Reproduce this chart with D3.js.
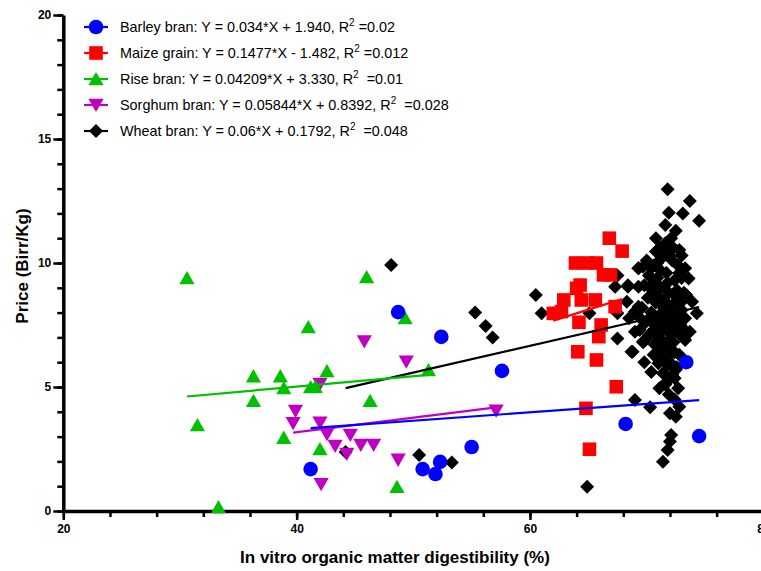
<!DOCTYPE html>
<html><head><meta charset="utf-8">
<script src="https://cdn.jsdelivr.net/npm/d3@7"></script>
<style>
body{margin:0;background:#fff;}
svg{display:block;font-family:"Liberation Sans",Arial,sans-serif;}
</style></head>
<body>
<svg id="chart" width="761" height="571"></svg>
<script>
// ---------------- data ----------------
const seriesNames = ["Barley bran","Maize grain","Rise bran","Sorghum bran","Wheat bran"];
const legendEquations = [
  "Y = 0.034*X + 1.940, R",
  "Y = 0.1477*X - 1.482, R",
  "Y = 0.04209*X + 3.330, R",
  "Y = 0.05844*X + 0.8392, R",
  "Y = 0.06*X + 0.1792, R"
];
const legendR2 = [" =0.02"," =0.012","  =0.01","  =0.028","  =0.048"];
// fitted line coefficients as drawn in the picture
const fitSlope = [0.034, 0.1477, 0.04209, 0.05844, 0.108];
const fitIntercept = [1.940, -1.482, 3.330, 0.8392, 0.1792];

const xTicks = [20,40,60,80];
const yTicks = [0,5,10,15,20];

const barleyX = [48.7,52.4,57.6,41.2,50.8,51.9,52.3,55.0,68.2,73.4,74.5];
const barleyY = [8.02,7.02,5.65,1.69,1.69,1.49,1.98,2.58,3.51,6.0,3.02];

const maizeX = [66.8,67.9,63.9,64.9,65.7,66.3,66.9,64.3,64.0,62.9,64.4,65.6,62.0,62.7,67.3,64.2,66.1,65.9,64.1,65.7,67.4,64.8,65.1];
const maizeY = [11.0,10.48,10.0,10.0,10.0,9.52,9.52,9.11,8.98,8.51,8.51,8.51,7.97,8.04,8.24,7.61,7.5,7.03,6.42,6.09,5.01,4.14,2.49];

const riseX = [30.6,46.0,41.0,49.3,36.3,38.6,42.6,38.9,41.2,41.6,36.3,46.3,51.3,31.5,38.9,42.0,48.6,33.3];
const riseY = [9.4,9.44,7.42,7.78,5.44,5.44,5.65,4.96,5.0,5.01,4.45,4.45,5.69,3.47,2.96,2.5,0.98,0.16];

const sorghumX = [45.8,49.4,42.0,39.9,39.7,42.0,42.6,44.6,43.3,44.3,45.5,46.6,48.7,42.1,57.1];
const sorghumY = [6.83,6.02,5.12,4.03,3.54,3.56,3.09,3.06,2.62,2.3,2.66,2.66,2.06,1.08,4.04];

const wheatX = [44.2,48.1,50.5,53.3,55.3,56.2,56.8,60.5,61.0,64.9,65.1,67.3,67.5,67.5,67.5,68.8,68.4,69.3,69.3,68.3,68.5,69.0,68.7,69.0,70.3,
  71.8,73.7,71.9,73.1,74.5,71.6,72.1,71.1,72.8,71.5,70.8,69.7,73.3,73.4,74.3,73.4,
  71.0,71.4,72.4,71.1,72.7,72.0,72.5,72.1,72.0,71.8,71.4,69.9,71.0,71.8,73.3,
  70.0,70.6,71.3,72.2,72.7,70.2,70.9,71.7,72.4,73.0,69.8,70.5,71.2,71.9,72.6,72.9,70.1,70.8,71.5,72.2,
  69.6,70.4,71.1,71.8,72.5,73.1,69.9,70.7,71.4,72.1,72.8,70.2,71.0,71.7,72.4,70.6,71.3,72.0,72.6,70.4,71.7,
  69.4,69.7,69.8,72.3,70.8,73.6,73.9,73.3,72.9,73.7,69.3,68.4,69.3,69.4,69.0,69.7,
  70.4,71.2,72.0,72.8,70.6,71.8,72.4,70.9,71.5,72.2,73.0,70.3,71.0,71.9,72.6,70.6,71.4,72.1,72.9,71.5,
  72.3,71.2,72.0,72.8,71.8,72.5,72.2,71.6,72.4,71.9,70.9,71.6,72.5,70.7,73.2,73.0,72.8];
const wheatY = [2.38,9.92,2.26,1.96,8.0,7.46,7.0,8.71,7.97,0.98,7.97,9.04,9.5,7.97,6.96,6.42,9.04,9.04,9.79,8.44,7.77,8.04,6.42,4.48,4.18,
  12.97,12.5,12.03,12.0,11.7,11.53,11.0,10.59,10.52,10.5,10.46,9.85,9.79,8.71,7.97,7.23,
  5.96,5.55,5.35,4.95,4.95,3.94,3.8,3.06,2.8,2.46,1.99,6.9,6.9,6.8,6.9,
  10.1,9.9,10.2,10.1,9.9,9.5,9.4,9.6,9.3,9.4,9.1,8.9,9.0,8.8,8.9,8.4,8.6,8.4,8.5,8.3,
  8.2,8.0,7.9,7.8,7.9,7.7,7.6,7.5,7.3,7.4,7.2,7.1,7.0,6.6,6.4,6.3,6.2,6.0,5.8,5.6,5.2,
  7.3,6.8,6.0,10.6,11.0,9.38,8.44,7.77,7.1,7.23,9.79,9.1,8.24,7.8,7.23,6.83,
  9.8,9.7,10.3,9.6,9.2,9.2,8.7,8.7,8.2,8.1,8.1,7.8,7.7,7.6,7.6,7.3,7.5,7.1,7.5,6.8,
  6.8,6.5,6.3,6.3,5.9,5.7,5.5,5.1,4.5,4.7,10.0,10.8,11.3,6.7,8.8,10.3,4.2];

const colors = ["#0000ff","#ff0000","#00c000","#c000c0","#000000"];
const shapes = ["circle","square","triangle","invtriangle","diamond"];

// ---------------- layout ----------------
const svg = d3.select("#chart");
const x = d3.scaleLinear().domain([20,80]).range([63.3,763.3]);
const y = d3.scaleLinear().domain([0,20]).range([511,15]);

function shapePath(s){
  switch(s){
    case "circle": return "M7.3,0A7.3,7.3 0 1,1 -7.3,0A7.3,7.3 0 1,1 7.3,0Z";
    case "square": return "M-6.8,-6.8H6.8V6.8H-6.8Z";
    case "triangle": return "M0,-7L7.6,6.3H-7.6Z";
    case "invtriangle": return "M0,7L7.6,-6.3H-7.6Z";
    case "diamond": return "M0,-7L7,0L0,7L-7,0Z";
  }
}

// axes
const axisG = svg.append("g");
axisG.append("g").attr("transform",`translate(${x(20)},0)`)
  .call(d3.axisLeft(y).tickValues(d3.range(0,21,1)).tickSize(6).tickFormat(""))
  .call(g=>g.selectAll("line").attr("stroke-width",2.5))
  .call(g=>g.select(".domain").remove());
const yAx = axisG.append("g").attr("transform",`translate(${x(20)},0)`)
  .call(d3.axisLeft(y).tickValues(yTicks).tickSize(10).tickSizeOuter(0).tickPadding(2));
yAx.select(".domain").attr("stroke-width",3.5);
yAx.selectAll("line").attr("stroke-width",2.5);
yAx.selectAll("text").attr("font-size",12).attr("font-weight","bold").attr("font-family","'Liberation Sans',Arial,sans-serif");

axisG.append("g").attr("transform",`translate(0,${y(0)})`)
  .call(d3.axisBottom(x).tickValues(d3.range(20,81,4)).tickSize(6).tickFormat(""))
  .call(g=>g.selectAll("line").attr("stroke-width",2.5))
  .call(g=>g.select(".domain").remove());
const xAx = axisG.append("g").attr("transform",`translate(0,${y(0)})`)
  .call(d3.axisBottom(x).tickValues(xTicks).tickSize(9).tickSizeOuter(0).tickPadding(4));
xAx.select(".domain").attr("stroke-width",3.5);
xAx.selectAll("line").attr("stroke-width",2.5);
xAx.selectAll("text").attr("font-size",12).attr("font-weight","bold").attr("font-family","'Liberation Sans',Arial,sans-serif");

// axis titles
svg.append("text").attr("x",395).attr("y",563).attr("text-anchor","middle")
  .attr("font-size",17).attr("font-weight","bold").text("In vitro organic matter digestibility (%)");
svg.append("text").attr("transform","translate(28,266) rotate(-90)").attr("text-anchor","middle")
  .attr("font-size",17).attr("font-weight","bold").text("Price (Birr/Kg)");

// points
const allX = [barleyX,maizeX,riseX,sorghumX,wheatX];
const allY = [barleyY,maizeY,riseY,sorghumY,wheatY];
const drawOrder = [4,3,2,1,0];
drawOrder.forEach(i=>{
  const pts = allX[i].map((v,k)=>({x:v,y:allY[i][k]}));
  svg.append("g").selectAll("path").data(pts).join("path")
    .attr("d",shapePath(shapes[i]))
    .attr("transform",d=>`translate(${x(d.x)},${y(d.y)})`)
    .attr("fill",colors[i]);
});
// regression lines
drawOrder.forEach(i=>{
  const ext = d3.extent(allX[i]);
  const line = d3.line().x(d=>x(d)).y(d=>y(fitSlope[i]*d+fitIntercept[i]));
  svg.append("path").attr("d",line(ext)).attr("stroke",colors[i]).attr("stroke-width",2.2).attr("fill","none");
});

// legend
const leg = svg.append("g");
const legY = [27,53,79,105,131];
seriesNames.forEach((n,i)=>{
  const g = leg.append("g").attr("transform",`translate(96,${legY[i]})`);
  g.append("line").attr("x1",-12).attr("x2",12).attr("stroke",colors[i]).attr("stroke-width",2.2);
  g.append("path").attr("d",shapePath(shapes[i])).attr("fill",colors[i]);
  const t = g.append("text").attr("x",24).attr("y",5).attr("font-size",14.4).style("white-space","pre");
  t.append("tspan").text(n+": "+legendEquations[i]);
  t.append("tspan").attr("font-size",10).attr("dy",-6).text("2");
  t.append("tspan").attr("dy",6).text(legendR2[i]);
});
</script>
</body></html>
